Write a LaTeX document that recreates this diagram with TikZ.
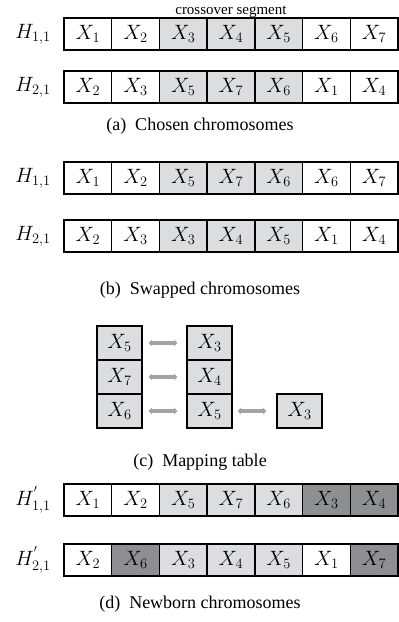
\documentclass[tikz,border=0pt]{standalone}
\usepackage{fontspec}
\setmainfont{Liberation Serif}
\usepackage{amsmath}
\usepackage{xcolor}
\usepackage{tikz}
\usetikzlibrary{positioning}
\usetikzlibrary{arrows.meta}
\definecolor{segfill}{HTML}{DCDDDE}
\definecolor{newfill}{HTML}{8D8F91}
\definecolor{mapgray}{HTML}{A3A3A3}
\tikzset{
  gene/.style={draw, line width=1.4pt, minimum width=47.7pt, minimum height=32pt,
    inner sep=0pt, font=\fontsize{21}{24}\selectfont},
  seg/.style={gene, fill=segfill},
  newgene/.style={gene, fill=newfill},
  mapbox/.style={gene, fill=segfill, minimum width=45pt, minimum height=34pt},
  maparrow/.style={<->, >={Stealth[length=3.5pt,width=7pt]}, draw=mapgray, line width=3.4pt},
  rowlabel/.style={font=\fontsize{22}{25}\selectfont},
  caption/.style={font=\fontsize{18}{21}\selectfont}
}

\begin{document}
\begin{tikzpicture}[x=1pt,y=-1pt]
            \useasboundingbox (0,0) rectangle (399,622);
            % (a) Chosen chromosomes
            \node[rowlabel] (ha1) at (33,34) {$H_{1,1}$};
            \node[gene] (a11) at (87.85,34) {$X_1$};
            \node[gene] (a12) at (135.55,34) {$X_2$};
            \node[seg] (a13) at (183.25,34) {$X_3$};
            \node[seg] (a14) at (230.95,34) {$X_4$};
            \node[seg] (a15) at (278.65,34) {$X_5$};
            \node[gene] (a16) at (326.35,34) {$X_6$};
            \node[gene] (a17) at (374.05,34) {$X_7$};
            \node[above=-1.5pt of a14, inner sep=1pt, font=\fontsize{15}{18}\selectfont] (seglabel) {crossover segment};
            \node[rowlabel] (ha2) at (33,87) {$H_{2,1}$};
            \node[gene] (a21) at (87.85,87) {$X_2$};
            \node[gene] (a22) at (135.55,87) {$X_3$};
            \node[seg] (a23) at (183.25,87) {$X_5$};
            \node[seg] (a24) at (230.95,87) {$X_7$};
            \node[seg] (a25) at (278.65,87) {$X_6$};
            \node[gene] (a26) at (326.35,87) {$X_1$};
            \node[gene] (a27) at (374.05,87) {$X_4$};
            \node[caption] (capa) at (200,126) {(a)\ \ Chosen chromosomes};
            % (b) Swapped chromosomes
            \node[rowlabel] (hb1) at (33,178) {$H_{1,1}$};
            \node[gene] (b11) at (87.85,178) {$X_1$};
            \node[gene] (b12) at (135.55,178) {$X_2$};
            \node[seg] (b13) at (183.25,178) {$X_5$};
            \node[seg] (b14) at (230.95,178) {$X_7$};
            \node[seg] (b15) at (278.65,178) {$X_6$};
            \node[gene] (b16) at (326.35,178) {$X_6$};
            \node[gene] (b17) at (374.05,178) {$X_7$};
            \node[rowlabel] (hb2) at (33,236) {$H_{2,1}$};
            \node[gene] (b21) at (87.85,236) {$X_2$};
            \node[gene] (b22) at (135.55,236) {$X_3$};
            \node[seg] (b23) at (183.25,236) {$X_3$};
            \node[seg] (b24) at (230.95,236) {$X_4$};
            \node[seg] (b25) at (278.65,236) {$X_5$};
            \node[gene] (b26) at (326.35,236) {$X_1$};
            \node[gene] (b27) at (374.05,236) {$X_4$};
            \node[caption] (capb) at (200,290) {(b)\ \ Swapped chromosomes};
            % (c) Mapping table
            \node[mapbox] (m5) at (119.5,343) {$X_5$};
            \node[mapbox] (m7) at (119.5,377) {$X_7$};
            \node[mapbox] (m6) at (119.5,411) {$X_6$};
            \node[mapbox] (n3) at (209.5,343) {$X_3$};
            \node[mapbox] (n4) at (209.5,377) {$X_4$};
            \node[mapbox] (n5) at (209.5,411) {$X_5$};
            \node[mapbox] (k3) at (299.5,411) {$X_3$};
            \draw[maparrow] ([xshift=6pt]m5.east) -- ([xshift=-9pt]n3.west);
            \draw[maparrow] ([xshift=6pt]m7.east) -- ([xshift=-9pt]n4.west);
            \draw[maparrow] ([xshift=6pt]m6.east) -- ([xshift=-9pt]n5.west);
            \draw[maparrow] ([xshift=5pt]n5.east) -- ([xshift=-10pt]k3.west);
            \node[caption] (capc) at (200,462) {(c)\ \ Mapping table};
            % (d) Newborn chromosomes
            \node[rowlabel] (hd1) at (33,500) {$H_{1,1}^{'}$};
            \node[gene] (d11) at (87.85,500) {$X_1$};
            \node[gene] (d12) at (135.55,500) {$X_2$};
            \node[seg] (d13) at (183.25,500) {$X_5$};
            \node[seg] (d14) at (230.95,500) {$X_7$};
            \node[seg] (d15) at (278.65,500) {$X_6$};
            \node[newgene] (d16) at (326.35,500) {$X_3$};
            \node[newgene] (d17) at (374.05,500) {$X_4$};
            \node[rowlabel] (hd2) at (33,560) {$H_{2,1}^{'}$};
            \node[gene] (d21) at (87.85,560) {$X_2$};
            \node[newgene] (d22) at (135.55,560) {$X_6$};
            \node[seg] (d23) at (183.25,560) {$X_3$};
            \node[seg] (d24) at (230.95,560) {$X_4$};
            \node[seg] (d25) at (278.65,560) {$X_5$};
            \node[gene] (d26) at (326.35,560) {$X_1$};
            \node[newgene] (d27) at (374.05,560) {$X_7$};
            \node[caption] (capd) at (200,604) {(d)\ \ Newborn chromosomes};
\end{tikzpicture}
\end{document}
